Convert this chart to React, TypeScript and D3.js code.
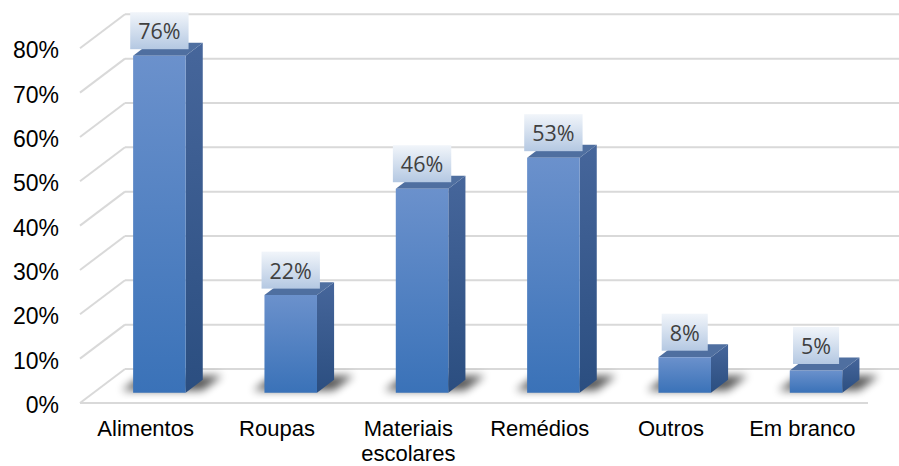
import React from 'react';
import * as d3 from 'd3';

// Survey results: share of answers per item
const categories = ['Alimentos', 'Roupas', 'Materiais escolares', 'Remédios', 'Outros', 'Em branco'];
const categoryLines = [['Alimentos'], ['Roupas'], ['Materiais', 'escolares'], ['Remédios'], ['Outros'], ['Em branco']];
const values = [76, 22, 46, 53, 8, 5];
const yTicks = [0, 10, 20, 30, 40, 50, 60, 70, 80];

const W = 899;
const H = 466;

// Oblique 3D projection: front plane of the floor, and the depth vector to the back wall
const FRONT_LEFT = 80;
const FRONT_RIGHT = 868;
const FLOOR_Y = 403;
const DEPTH_DX = 45;
const DEPTH_DY = -34;
const BAR_D1 = 0.305;
const BAR_D2 = 0.685;

const LABEL_FONT = '21.5px "Open Sans"';

function measure(text: string): number {
  if (typeof document === 'undefined') return text.length * 12;
  const c = document.createElement('canvas');
  const ctx = c.getContext('2d');
  if (!ctx) return text.length * 12;
  ctx.font = LABEL_FONT;
  return ctx.measureText(text).width;
}

export default function App() {
  const x = d3.scaleBand<string>().domain(categories).range([FRONT_LEFT, FRONT_RIGHT]).paddingInner(0.6).paddingOuter(0.3);
  const h = d3.scaleLinear().domain([0, 80]).range([0, 354.7]);

  // project a point given front-plane x, height above floor and depth fraction
  const P = (xf: number, hy: number, d: number): [number, number] => [xf + d * DEPTH_DX, FLOOR_Y - hy + d * DEPTH_DY];
  const poly = (pts: [number, number][]) => pts.map((p) => p.join(',')).join(' ');

  return (
    <svg width={W} height={H} style={{ position: 'absolute', left: 0, top: 0, background: '#fff' }}>
      <defs>
        <linearGradient id="frontGrad" x1="0" y1="0" x2="0" y2="1">
          <stop offset="0" stopColor="#6b91cc" />
          <stop offset="1" stopColor="#3a72b8" />
        </linearGradient>
        <linearGradient id="sideGrad" x1="0" y1="0" x2="0" y2="1">
          <stop offset="0" stopColor="#46669b" />
          <stop offset="1" stopColor="#2b4e80" />
        </linearGradient>
        <linearGradient id="labelGrad" x1="0" y1="0" x2="0" y2="1">
          <stop offset="0" stopColor="#f1f5fa" />
          <stop offset="1" stopColor="#b4c8e2" />
        </linearGradient>
        <filter id="shadowBlur" x="-50%" y="-50%" width="200%" height="200%">
          <feGaussianBlur stdDeviation="4" />
        </filter>
      </defs>

      {/* gridlines: side wall diagonals and back wall horizontals */}
      <g stroke="#d9d9d9" strokeWidth={2} fill="none">
        {yTicks.map((t) => {
          const f = P(FRONT_LEFT, h(t), 0);
          const b = P(FRONT_LEFT, h(t), 1);
          return (
            <g key={t}>
              <line x1={f[0]} y1={f[1]} x2={b[0]} y2={b[1]} />
              <line x1={b[0]} y1={b[1]} x2={W + 20} y2={b[1]} />
            </g>
          );
        })}
        <line x1={FRONT_LEFT} y1={FLOOR_Y} x2={FRONT_RIGHT} y2={FLOOR_Y} />
      </g>

      {/* y tick labels */}
      <g fontFamily='"Liberation Sans", Arial, sans-serif' fontSize={23} fill="#000" textAnchor="end">
        {yTicks.map((t) => (
          <text key={t} x={59} y={FLOOR_Y - h(t) + 10}>
            {t}%
          </text>
        ))}
      </g>

      {/* floor shadows */}
      <g filter="url(#shadowBlur)" fill="#000" opacity={0.65}>
        {categories.map((c) => {
          const x0 = x(c)!;
          const x1 = x0 + x.bandwidth();
          return (
            <polygon
              key={c}
              points={poly([
                P(x0 - 14, 0, BAR_D1 + 0.06),
                P(x1 + 14, 0, BAR_D1 + 0.06),
                P(x1 + 14, 0, BAR_D2 + 0.12),
                P(x0 - 14, 0, BAR_D2 + 0.12),
              ])}
            />
          );
        })}
      </g>

      {/* bars */}
      {categories.map((c, i) => {
        const x0 = x(c)!;
        const x1 = x0 + x.bandwidth();
        const hv = h(values[i]);
        return (
          <g key={c}>
            <polygon
              fill="url(#sideGrad)"
              points={poly([P(x1, 0, BAR_D1), P(x1, 0, BAR_D2), P(x1, hv, BAR_D2), P(x1, hv, BAR_D1)])}
            />
            <polygon
              fill="#4f6fa0"
              points={poly([P(x0, hv, BAR_D1), P(x1, hv, BAR_D1), P(x1, hv, BAR_D2), P(x0, hv, BAR_D2)])}
            />
            <polygon
              fill="url(#frontGrad)"
              points={poly([P(x0, 0, BAR_D1), P(x1, 0, BAR_D1), P(x1, hv, BAR_D1), P(x0, hv, BAR_D1)])}
            />
          </g>
        );
      })}

      {/* data labels */}
      {categories.map((c, i) => {
        const label = `${values[i]}%`;
        const cx = x(c)! + x.bandwidth() / 2 + BAR_D1 * DEPTH_DX;
        const bottom = P(0, h(values[i]), (BAR_D1 + BAR_D2) / 2)[1];
        const bw = measure(label) + 16;
        const bh = 37;
        return (
          <g key={c}>
            <rect x={cx - bw / 2} y={bottom - bh} width={bw} height={bh} fill="url(#labelGrad)" />
            <text
              x={cx}
              y={bottom - bh / 2}
              textAnchor="middle"
              dominantBaseline="central"
              style={{ font: LABEL_FONT }}
              fill="#404040"
            >
              {label}
            </text>
          </g>
        );
      })}

      {/* category labels */}
      <g fontFamily='"Liberation Sans", Arial, sans-serif' fontSize={22} fill="#000" textAnchor="middle">
        {categories.map((c, i) => (
          <text key={c} x={x(c)! + x.bandwidth() / 2} y={436}>
            {categoryLines[i].map((line, j) => (
              <tspan key={j} x={x(c)! + x.bandwidth() / 2} dy={j === 0 ? 0 : 25}>
                {line}
              </tspan>
            ))}
          </text>
        ))}
      </g>
    </svg>
  );
}
